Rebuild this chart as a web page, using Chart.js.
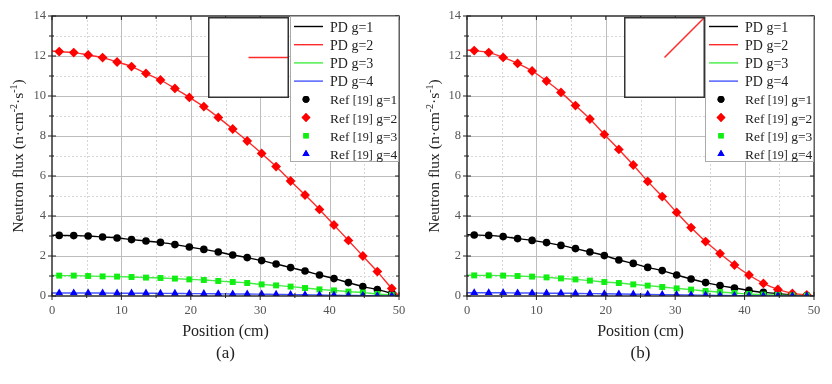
<!DOCTYPE html>
<html>
<head>
<meta charset="utf-8">
<script src="https://cdn.jsdelivr.net/npm/chart.js@4.4.1/dist/chart.umd.min.js"></script>
<style>
  html, body { margin: 0; padding: 0; background: #fff; }
  #wrap { position: relative; width: 832px; height: 384px; }
  .panel { position: absolute; top: 0; width: 416px; height: 384px; }
  .panel canvas.main { position: absolute; left: 0; top: 0; }
  .panel canvas.inset { position: absolute; left: 208px; top: 17px; }
</style>
</head>
<body>
<div id="wrap">
  <div class="panel" style="left:0"><canvas class="main" id="ca" width="416" height="384"></canvas><canvas class="inset" id="ia" width="81" height="81"></canvas></div>
  <div class="panel" style="left:416px"><canvas class="main" id="cb" width="416" height="384"></canvas><canvas class="inset" id="ib" width="81" height="81"></canvas></div>
</div>
<script>
// ---------- DATA ----------
const positions = [1.04, 3.13, 5.21, 7.29, 9.38, 11.46, 13.54, 15.63, 17.71, 19.79, 21.88, 23.96,
                   26.04, 28.13, 30.21, 32.29, 34.38, 36.46, 38.54, 40.63, 42.71, 44.79, 46.88, 48.96];
const lineStartX = 0;
const lineEndX = 50;

// panel (a) reference values
const refA_g1 = [3.03, 3.02, 3.00, 2.95, 2.90, 2.82, 2.75, 2.68, 2.57, 2.45, 2.33, 2.20,
                 2.05, 1.92, 1.77, 1.60, 1.42, 1.25, 1.05, 0.87, 0.67, 0.47, 0.32, 0.13];
const refA_g2 = [12.22, 12.17, 12.05, 11.92, 11.70, 11.47, 11.13, 10.80, 10.38, 9.93, 9.47, 8.93,
                 8.35, 7.75, 7.13, 6.47, 5.75, 5.05, 4.33, 3.55, 2.78, 2.00, 1.22, 0.38];
const refA_g3 = [1.02, 1.02, 1.00, 0.98, 0.97, 0.95, 0.92, 0.90, 0.87, 0.83, 0.80, 0.75,
                 0.70, 0.65, 0.58, 0.53, 0.47, 0.40, 0.33, 0.28, 0.22, 0.17, 0.10, 0.05];
const refA_g4 = [0.15, 0.15, 0.15, 0.15, 0.14, 0.14, 0.14, 0.13, 0.13, 0.12, 0.12, 0.11,
                 0.10, 0.10, 0.09, 0.08, 0.07, 0.06, 0.05, 0.04, 0.03, 0.02, 0.01, 0.005];
const pdStartA = [3.04, 12.25, 1.03, 0.15];
const pdEndA   = [0, 0, 0, 0];

// panel (b) reference values
const refB_g1 = [3.05, 3.03, 2.97, 2.87, 2.78, 2.67, 2.53, 2.37, 2.20, 2.02, 1.80, 1.63,
                 1.43, 1.27, 1.05, 0.85, 0.67, 0.52, 0.40, 0.28, 0.18, 0.12, 0.05, 0.02];
const refB_g2 = [12.27, 12.17, 11.93, 11.63, 11.25, 10.75, 10.18, 9.52, 8.85, 8.08, 7.33, 6.55,
                 5.73, 4.97, 4.18, 3.42, 2.72, 2.12, 1.55, 1.05, 0.63, 0.33, 0.13, 0.05];
const refB_g3 = [1.03, 1.03, 1.02, 1.00, 0.97, 0.93, 0.88, 0.83, 0.77, 0.70, 0.65, 0.58,
                 0.52, 0.45, 0.38, 0.32, 0.25, 0.20, 0.15, 0.10, 0.07, 0.05, 0.03, 0.02];
const refB_g4 = [0.16, 0.16, 0.16, 0.15, 0.15, 0.14, 0.14, 0.13, 0.12, 0.11, 0.10, 0.09,
                 0.08, 0.07, 0.06, 0.05, 0.04, 0.03, 0.02, 0.015, 0.01, 0.005, 0.003, 0.002];
const pdStartB = [3.06, 12.3, 1.04, 0.16];
const pdEndB   = [0, 0, 0, 0];

// inset line (inset's own unit coordinates)
const insetA_x = [0.5, 1.0], insetA_y = [0.5, 0.5];
const insetB_x = [0.5, 1.0], insetB_y = [0.5, 1.0];

const xTicks = [0, 10, 20, 30, 40, 50];
const yTicks = [0, 2, 4, 6, 8, 10, 12, 14];
const pdLabels  = ['PD g=1', 'PD g=2', 'PD g=3', 'PD g=4'];
const refLabels = ['Ref [19] g=1', 'Ref [19] g=2', 'Ref [19] g=3', 'Ref [19] g=4'];
const panelLabels = ['(a)', '(b)'];

// ---------- STYLE ----------
const lineColors   = ['#000000', '#ff2a2a', '#44ee44', '#4455ff'];
const markerColors = ['#000000', '#ff0000', '#11ee11', '#0000ff'];
const markerStyles = ['circle', 'rectRot', 'rect', 'triangle'];
const markerRadii  = [3.8, 4.9, 4.2, 4.6];
const SERIF = '"Liberation Serif", "Times New Roman", serif';

function buildDatasets(refs, starts, ends) {
  const ds = [];
  refs.forEach((arr, i) => {
    const pts = [{x: lineStartX, y: starts[i]}]
      .concat(positions.map((x, k) => ({x, y: arr[k]})))
      .concat([{x: lineEndX, y: ends[i]}]);
    ds.push({ type: 'line', label: pdLabels[i], data: pts, borderColor: lineColors[i],
      borderWidth: 1.4, pointRadius: 0, cubicInterpolationMode: 'monotone', fill: false, order: 10 - i });
  });
  refs.forEach((arr, i) => {
    ds.push({ type: 'scatter', label: refLabels[i], data: positions.map((x, k) => ({x, y: arr[k]})),
      backgroundColor: markerColors[i], borderColor: markerColors[i], borderWidth: 0,
      pointStyle: markerStyles[i], pointRadius: markerRadii[i], showLine: false, order: 5 - i });
  });
  return ds;
}

function drawRich(ctx, parts, x, y) {
  let cx = x;
  parts.forEach(([t, f, dy]) => { ctx.font = f; ctx.fillText(t, cx, y + (dy || 0)); cx += ctx.measureText(t).width; });
}

const decorPlugin = {
  id: 'decor',
  beforeDatasetsDraw(chart) {
    const {ctx, chartArea: a, scales: {x, y}} = chart;
    ctx.save();
    ctx.strokeStyle = '#d6d6d6'; ctx.lineWidth = 1; ctx.setLineDash([2, 2]);
    for (let v = 5; v < 50; v += 10) { const p = Math.round(x.getPixelForValue(v)) + 0.5; ctx.beginPath(); ctx.moveTo(p, a.top); ctx.lineTo(p, a.bottom); ctx.stroke(); }
    for (let v = 1; v < 14; v += 2) { const p = Math.round(y.getPixelForValue(v)) + 0.5; ctx.beginPath(); ctx.moveTo(a.left, p); ctx.lineTo(a.right, p); ctx.stroke(); }
    ctx.setLineDash([]); ctx.strokeStyle = '#bdbdbd';
    xTicks.forEach(v => { if (v > 0 && v < 50) { const p = Math.round(x.getPixelForValue(v)) + 0.5; ctx.beginPath(); ctx.moveTo(p, a.top); ctx.lineTo(p, a.bottom); ctx.stroke(); } });
    yTicks.forEach(v => { if (v > 0 && v < 14) { const p = Math.round(y.getPixelForValue(v)) + 0.5; ctx.beginPath(); ctx.moveTo(a.left, p); ctx.lineTo(a.right, p); ctx.stroke(); } });
    ctx.restore();
  },
  afterDatasetsDraw(chart) {
    const {ctx, chartArea: a, scales: {x, y}} = chart;
    ctx.save();
    ctx.strokeStyle = '#222'; ctx.lineWidth = 1.4;
    ctx.strokeRect(a.left, a.top, a.right - a.left, a.bottom - a.top);
    ctx.lineWidth = 1;
    const seg = (x1, y1, x2, y2) => { ctx.beginPath(); ctx.moveTo(x1, y1); ctx.lineTo(x2, y2); ctx.stroke(); };
    for (let v = 0; v <= 50; v += 5) {
      const p = x.getPixelForValue(v), major = v % 10 === 0;
      if (major) { seg(p, a.bottom - 4, p, a.bottom + 4); seg(p, a.top, p, a.top + 4); }
      else { seg(p, a.bottom - 3, p, a.bottom + 2); seg(p, a.top, p, a.top + 3); }
    }
    for (let v = 0; v <= 14; v += 1) {
      const p = y.getPixelForValue(v), major = v % 2 === 0;
      if (major) { seg(a.left - 4, p, a.left + 4, p); seg(a.right - 4, p, a.right, p); }
      else { seg(a.left - 3, p, a.left + 2, p); seg(a.right - 3, p, a.right, p); }
    }
    ctx.restore();
  },
  afterDraw(chart) {
    const {ctx, chartArea: a} = chart;
    const opts = chart.options.plugins.decor;
    ctx.save();
    const lx = a.right - 109, ly = a.top, lw = 109, lh = 146;
    ctx.fillStyle = '#fff'; ctx.fillRect(lx, ly, lw, lh);
    ctx.strokeStyle = '#aaa'; ctx.lineWidth = 1; ctx.strokeRect(lx + 0.5, ly + 0.5, lw - 1, lh - 1);
    ctx.textBaseline = 'alphabetic'; ctx.textAlign = 'left';
    const big = '14px ' + SERIF, refBig = '13.5px ' + SERIF, mid = '12px ' + SERIF;
    chart.data.datasets.forEach((d, i) => {
      const cy = ly + 10.5 + i * 18.2;
      if (d.type === 'line') {
        ctx.strokeStyle = d.borderColor; ctx.lineWidth = 1.4;
        ctx.beginPath(); ctx.moveTo(lx + 4, cy); ctx.lineTo(lx + 33, cy); ctx.stroke();
      } else {
        ctx.fillStyle = d.backgroundColor;
        Chart.helpers.drawPoint(ctx, {pointStyle: d.pointStyle, radius: d.pointRadius * 0.9, rotation: 0, borderWidth: 0}, lx + 16, cy);
        ctx.fill();
      }
      ctx.fillStyle = '#222';
      const m = /^(Ref )(\[\d+\])( .*)$/.exec(d.label);
      if (m) drawRich(ctx, [[m[1], refBig], [m[2], mid], [m[3], refBig]], lx + 40, cy + 5);
      else { ctx.font = big; ctx.fillText(d.label, lx + 40, cy + 5); }
    });
    ctx.fillStyle = '#222'; ctx.textAlign = 'center'; ctx.textBaseline = 'middle';
    ctx.font = '16px ' + SERIF;
    ctx.fillText('Position (cm)', (a.left + a.right) / 2, 332);
    ctx.font = '17px ' + SERIF;
    ctx.fillText(opts.panel, (a.left + a.right) / 2, 354);
    const big15 = '15.5px ' + SERIF, small = '10px ' + SERIF;
    const parts = [['Neutron flux (n·cm', big15, 5], ['-2', small, -1], ['·s', big15, 5], ['-1', small, -1], [')', big15, 5]];
    let total = 0;
    parts.forEach(([t, f]) => { ctx.font = f; total += ctx.measureText(t).width; });
    ctx.translate(opts.ytx, (a.top + a.bottom) / 2);
    ctx.rotate(-Math.PI / 2);
    ctx.textAlign = 'left'; ctx.textBaseline = 'alphabetic';
    drawRich(ctx, parts, -total / 2, 0);
    ctx.restore();
  }
};

function makeMain(id, refs, starts, ends, panel, yWidth, padRight) {
  return new Chart(document.getElementById(id), {
    type: 'scatter',
    data: { datasets: buildDatasets(refs, starts, ends) },
    options: {
      responsive: false, animation: false, devicePixelRatio: 1,
      layout: { padding: { left: 0, top: 16, right: padRight, bottom: 0 } },
      plugins: { legend: { display: false }, tooltip: { enabled: false }, decor: { panel, ytx: 18 } },
      scales: {
        x: { type: 'linear', min: 0, max: 50, afterBuildTicks: s => { s.ticks = xTicks.map(v => ({value: v})); },
             grid: { display: false, drawTicks: false }, border: { display: false },
             ticks: { font: { family: SERIF, size: 12.5 }, color: '#555', padding: 7, maxRotation: 0 },
             afterFit: s => { s.height = 88; } },
        y: { type: 'linear', min: 0, max: 14, afterBuildTicks: s => { s.ticks = yTicks.map(v => ({value: v})); },
             grid: { display: false, drawTicks: false }, border: { display: false },
             ticks: { font: { family: SERIF, size: 12.5 }, color: '#555', padding: 6 },
             afterFit: s => { s.width = yWidth; } }
      }
    },
    plugins: [decorPlugin]
  });
}

const insetBorder = {
  id: 'insetBorder',
  beforeDraw(chart) {
    const {ctx, width, height} = chart;
    ctx.save(); ctx.fillStyle = '#fff'; ctx.fillRect(0, 0, width, height); ctx.restore();
  },
  afterDraw(chart) {
    const {ctx, width, height} = chart;
    ctx.save(); ctx.strokeStyle = '#333'; ctx.lineWidth = 1.5;
    ctx.strokeRect(0.75, 0.75, width - 1.5, height - 1.5); ctx.restore();
  }
};

function makeInset(id, xs, ys) {
  return new Chart(document.getElementById(id), {
    type: 'line',
    data: { datasets: [{ data: xs.map((x, i) => ({x, y: ys[i]})), borderColor: '#ff2a2a', borderWidth: 1.5, pointRadius: 0 }] },
    options: {
      responsive: false, animation: false, devicePixelRatio: 1,
      layout: { padding: 0 },
      plugins: { legend: { display: false }, tooltip: { enabled: false } },
      scales: { x: { type: 'linear', min: 0, max: 1, display: false }, y: { type: 'linear', min: 0, max: 1, display: false } }
    },
    plugins: [insetBorder]
  });
}

makeMain('ca', [refA_g1, refA_g2, refA_g3, refA_g4], pdStartA, pdEndA, panelLabels[0], 52, 17);
makeMain('cb', [refB_g1, refB_g2, refB_g3, refB_g4], pdStartB, pdEndB, panelLabels[1], 51, 18);
makeInset('ia', insetA_x, insetA_y);
makeInset('ib', insetB_x, insetB_y);
</script>
</body>
</html>
